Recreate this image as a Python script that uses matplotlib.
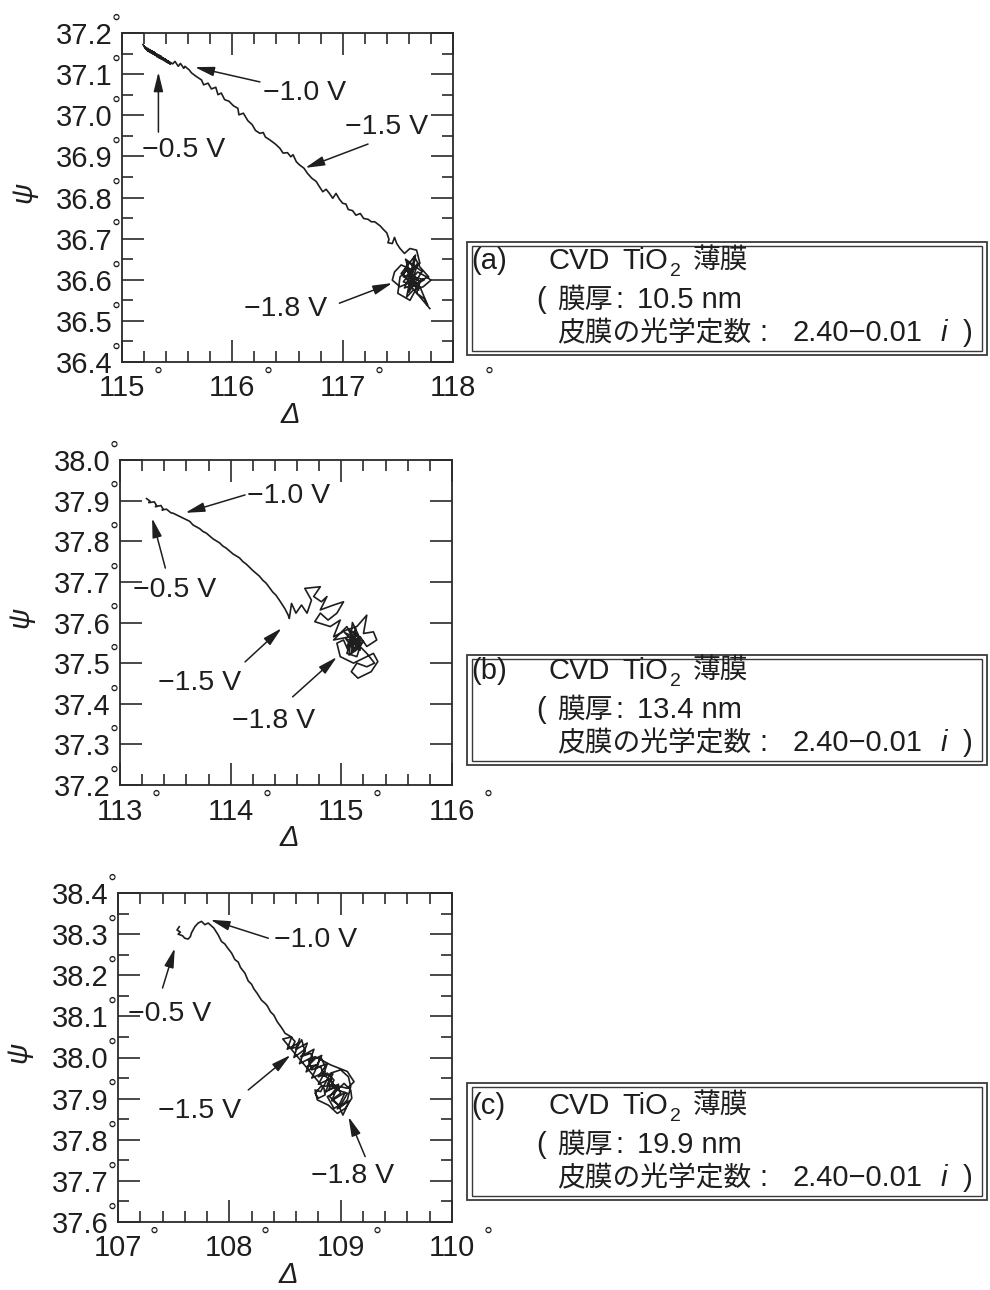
import matplotlib
matplotlib.use("Agg")
import matplotlib.pyplot as plt
from matplotlib.patches import Rectangle
from matplotlib.ticker import FixedLocator, FixedFormatter, MultipleLocator, NullLocator

plt.rcParams['font.family'] = ['Liberation Sans', 'Noto Sans CJK JP', 'DejaVu Sans']
plt.rcParams['axes.unicode_minus'] = True

# ---------------- (a) 10.5 nm film: Delta / Psi trajectory ----------------
delta_a = [
    115.19, 115.22, 115.20, 115.24, 115.21, 115.26, 115.23, 115.28, 115.25, 115.30,
    115.27, 115.32, 115.29, 115.34, 115.31, 115.36, 115.33, 115.38, 115.35, 115.40,
    115.37, 115.42, 115.39, 115.44, 115.41, 115.46, 115.48, 115.51, 115.53, 115.56,
    115.57, 115.61, 115.63,
    115.68, 115.72, 115.74, 115.78, 115.81, 115.85, 115.87, 115.90, 115.93, 115.97,
    116.01, 116.05, 116.06, 116.10, 116.14, 116.18, 116.21, 116.25, 116.28, 116.30,
    116.34, 116.39, 116.43, 116.46, 116.50, 116.53, 116.55, 116.58, 116.61, 116.65,
    116.68, 116.72, 116.76, 116.79, 116.82, 116.85, 116.88, 116.91, 116.94, 116.97,
    117.00, 117.03, 117.05, 117.09, 117.12, 117.16, 117.19, 117.23, 117.26, 117.29,
    117.34, 117.37, 117.40, 117.42, 117.41, 117.45, 117.47, 117.49, 117.52,
    117.56, 117.61, 117.67, 117.70, 117.64, 117.53, 117.47, 117.45, 117.52, 117.59,
    117.68, 117.76, 117.80, 117.73, 117.64, 117.58, 117.61, 117.65, 117.59, 117.55,
    117.62, 117.70, 117.67, 117.74, 117.77, 117.70, 117.64, 117.58, 117.52, 117.50,
    117.61, 117.71, 117.78, 117.70, 117.65, 117.61, 117.64,
    117.58, 117.66, 117.55, 117.68, 117.60, 117.72, 117.57, 117.63, 117.69, 117.53,
    117.66, 117.61, 117.74, 117.59, 117.64, 117.56, 117.70, 117.62, 117.67, 117.60,
    117.79,
]
psi_a = [
    37.172, 37.160, 37.168, 37.155, 37.166, 37.152, 37.163, 37.149, 37.160, 37.146,
    37.157, 37.142, 37.154, 37.139, 37.150, 37.136, 37.147, 37.133, 37.144, 37.130,
    37.140, 37.127, 37.137, 37.124, 37.133, 37.125, 37.131, 37.119, 37.126, 37.114,
    37.119, 37.110, 37.103,
    37.093, 37.086, 37.074, 37.078, 37.064, 37.068, 37.050, 37.054, 37.038, 37.034,
    37.023, 37.017, 37.001, 37.005, 36.987, 36.977, 36.963, 36.956, 36.958, 36.947,
    36.940, 36.930, 36.920, 36.908, 36.909, 36.899, 36.904, 36.887, 36.879, 36.871,
    36.859, 36.847, 36.839, 36.826, 36.814, 36.820, 36.810, 36.798, 36.810, 36.796,
    36.786, 36.784, 36.771, 36.768, 36.757, 36.761, 36.749, 36.747, 36.741, 36.741,
    36.731, 36.722, 36.714, 36.698, 36.690, 36.688, 36.703, 36.688, 36.676,
    36.664, 36.676, 36.672, 36.640, 36.623, 36.636, 36.619, 36.599, 36.583, 36.591,
    36.619, 36.607, 36.599, 36.583, 36.575, 36.558, 36.599, 36.631, 36.644, 36.607,
    36.615, 36.595, 36.567, 36.554, 36.538, 36.583, 36.599, 36.623, 36.607, 36.567,
    36.550, 36.599, 36.607, 36.631, 36.656, 36.607, 36.591,
    36.625, 36.585, 36.595, 36.640, 36.570, 36.620, 36.650, 36.600, 36.575, 36.615,
    36.660, 36.580, 36.600, 36.610, 36.630, 36.580, 36.595, 36.612, 36.605, 36.590,
    36.530,
]

# ---------------- (b) 13.4 nm film ----------------
delta_b = [
    113.24, 113.27, 113.26, 113.31, 113.33, 113.32, 113.37, 113.39, 113.38, 113.42,
    113.46, 113.48,
    113.54, 113.60, 113.63, 113.66, 113.72, 113.75, 113.78, 113.84, 113.90, 113.93,
    113.96, 114.02, 114.08, 114.11, 114.14, 114.20, 114.26, 114.29, 114.32, 114.38,
    114.41, 114.44, 114.49, 114.52, 114.53,
    114.55, 114.59, 114.64, 114.69, 114.73, 114.67, 114.81, 114.75, 114.82, 114.87,
    114.81, 114.93, 115.02, 114.96, 114.88, 114.81, 114.76, 114.90, 114.99, 114.93,
    115.05, 115.14, 115.23, 115.20, 115.29, 115.32, 115.23, 115.17, 115.08, 115.05,
    115.14, 115.18, 115.11, 115.06, 115.02, 114.96, 114.99, 115.11, 115.20, 115.29,
    115.33, 115.27, 115.15, 115.09, 115.14, 115.23, 115.30, 115.23, 115.11, 115.14,
    115.17, 115.09, 115.12, 115.20, 115.15, 115.08, 114.93, 115.05, 115.11,
    115.06, 115.14, 115.08, 115.12, 115.04, 115.16, 115.09, 115.13, 115.05, 115.17,
    115.10, 115.07, 115.15, 115.11, 115.03, 115.12, 115.08, 115.14,
]
psi_b = [
    37.905, 37.899, 37.895, 37.897, 37.888, 37.885, 37.888, 37.879, 37.877, 37.879,
    37.870, 37.869,
    37.861, 37.853, 37.849, 37.840, 37.831, 37.824, 37.820, 37.806, 37.796, 37.788,
    37.783, 37.769, 37.759, 37.750, 37.744, 37.728, 37.714, 37.704, 37.697, 37.675,
    37.667, 37.655, 37.634, 37.618, 37.610,
    37.647, 37.623, 37.643, 37.623, 37.655, 37.684, 37.688, 37.664, 37.651, 37.664,
    37.631, 37.643, 37.651, 37.623, 37.606, 37.623, 37.602, 37.590, 37.606, 37.565,
    37.582, 37.590, 37.618, 37.573, 37.577, 37.557, 37.541, 37.565, 37.549, 37.524,
    37.516, 37.549, 37.565, 37.532, 37.557, 37.549, 37.516, 37.500, 37.512, 37.524,
    37.504, 37.479, 37.463, 37.479, 37.500, 37.491, 37.500, 37.524, 37.557, 37.573,
    37.532, 37.541, 37.561, 37.553, 37.536, 37.565, 37.557, 37.590, 37.557,
    37.545, 37.570, 37.580, 37.530, 37.560, 37.548, 37.525, 37.585, 37.540, 37.560,
    37.600, 37.520, 37.535, 37.565, 37.575, 37.550, 37.555, 37.542,
]

# ---------------- (c) 19.9 nm film ----------------
delta_c = [
    107.55, 107.53, 107.56, 107.54, 107.58, 107.60, 107.63, 107.65, 107.66, 107.69,
    107.72, 107.75, 107.78, 107.81, 107.86,
    107.90, 107.93, 107.96, 107.98, 108.02, 108.05, 108.08, 108.10, 108.14, 108.17,
    108.20, 108.22, 108.25, 108.29, 108.32, 108.34, 108.37, 108.40, 108.43, 108.46,
    108.48, 108.50,
    108.55, 108.59, 108.56, 108.61, 108.65, 108.68, 108.64, 108.73, 108.76, 108.70,
    108.79, 108.82, 108.86, 108.80, 108.88, 108.94, 108.89, 108.97, 109.00, 108.92,
    109.00, 109.06, 109.09, 109.07, 109.00, 108.91, 108.86, 108.82, 108.77, 108.79,
    108.89, 108.97, 109.04, 109.10, 109.09, 109.03, 108.94, 108.88, 108.94, 109.01,
    109.06, 108.97, 108.91, 108.85, 108.82, 108.74, 108.71, 108.77, 108.91, 109.06,
    109.12, 109.06, 108.94, 108.82, 108.77, 108.80, 108.86, 108.85,
    108.48, 108.56, 108.52, 108.62, 108.58, 108.68, 108.63, 108.74, 108.69, 108.80,
    108.74, 108.86, 108.80, 108.92, 108.86, 108.98, 108.92, 109.04, 108.97, 109.08,
    109.02, 108.98, 108.90, 108.96, 108.88, 108.93, 108.84, 108.88, 108.78, 108.83,
    108.72, 108.76, 108.66, 108.70, 108.60, 108.63,
]
psi_c = [
    38.318, 38.310, 38.305, 38.300, 38.296, 38.290, 38.288, 38.294, 38.303, 38.318,
    38.327, 38.331, 38.323, 38.327, 38.315,
    38.298, 38.282, 38.276, 38.268, 38.254, 38.238, 38.232, 38.219, 38.205, 38.186,
    38.178, 38.167, 38.156, 38.139, 38.132, 38.126, 38.111, 38.103, 38.087, 38.076,
    38.068, 38.059,
    38.051, 38.039, 38.022, 38.026, 38.043, 38.014, 38.002, 38.010, 37.994, 37.978,
    37.982, 38.002, 37.978, 37.953, 37.962, 37.945, 37.921, 37.929, 37.913, 37.897,
    37.880, 37.897, 37.929, 37.953, 37.970, 37.962, 37.937, 37.917, 37.921, 37.897,
    37.884, 37.864, 37.876, 37.901, 37.921, 37.937, 37.913, 37.905, 37.876, 37.888,
    37.913, 37.921, 37.945, 37.957, 37.978, 37.970, 37.994, 38.002, 37.982, 37.966,
    37.941, 37.925, 37.933, 37.929, 37.913, 37.901, 37.909, 37.925,
    38.045, 38.050, 38.020, 38.035, 38.000, 38.020, 37.985, 38.000, 37.965, 37.985,
    37.950, 37.965, 37.935, 37.950, 37.915, 37.935, 37.895, 37.915, 37.875, 37.895,
    37.860, 37.885, 37.905, 37.925, 37.935, 37.960, 37.955, 37.985, 37.975, 38.005,
    37.990, 38.020, 38.005, 38.035, 38.020, 38.045,
]

# axis ticks and tick labels
xticks_a = [115, 116, 117, 118]
xticks_b = [113, 114, 115, 116]
xticks_c = [107, 108, 109, 110]
xlabels_a = ['115', '116', '117', '118']
xlabels_b = ['113', '114', '115', '116']
xlabels_c = ['107', '108', '109', '110']
yticks_a = [36.4, 36.5, 36.6, 36.7, 36.8, 36.9, 37.0, 37.1, 37.2]
yticks_b = [37.2, 37.3, 37.4, 37.5, 37.6, 37.7, 37.8, 37.9, 38.0]
yticks_c = [37.6, 37.7, 37.8, 37.9, 38.0, 38.1, 38.2, 38.3, 38.4]
ylabels_a = ['36.4', '36.5', '36.6', '36.7', '36.8', '36.9', '37.0', '37.1', '37.2']
ylabels_b = ['37.2', '37.3', '37.4', '37.5', '37.6', '37.7', '37.8', '37.9', '38.0']
ylabels_c = ['37.6', '37.7', '37.8', '37.9', '38.0', '38.1', '38.2', '38.3', '38.4']

# potential labels: (text, label x, label y, arrow tail x, tail y, arrow tip x, tip y)
marks_a = [
    ('−1.0 V', 116.28, 37.061, 116.25, 37.081, 115.66, 37.117),
    ('−0.5 V', 115.18, 36.923, 115.33, 36.959, 115.33, 37.105),
    ('−1.5 V', 117.02, 36.979, 117.23, 36.930, 116.66, 36.872),
    ('−1.8 V', 116.11, 36.536, 116.97, 36.543, 117.45, 36.592),
]
marks_b = [
    ('−1.0 V', 114.15, 37.919, 114.13, 37.914, 113.59, 37.870),
    ('−0.5 V', 113.12, 37.687, 113.41, 37.734, 113.29, 37.857),
    ('−1.5 V', 113.34, 37.458, 114.13, 37.503, 114.46, 37.586),
    ('−1.8 V', 114.01, 37.365, 114.56, 37.417, 114.96, 37.515),
]
marks_c = [
    ('−1.0 V', 108.40, 38.294, 108.35, 38.290, 107.83, 38.335),
    ('−0.5 V', 107.09, 38.112, 107.40, 38.169, 107.51, 38.266),
    ('−1.5 V', 107.36, 37.876, 108.17, 37.921, 108.55, 38.006),
    ('−1.8 V', 108.73, 37.718, 109.22, 37.759, 109.07, 37.856),
]

panel_tags = ['(a)', '(b)', '(c)']
thickness = ['10.5 nm', '13.4 nm', '19.9 nm']
optical_const = '2.40−0.01'

INK = '#1e1e1e'
W, H = 990, 1290
fig = plt.figure(figsize=(W / 100, H / 100), dpi=100)
fig.patch.set_facecolor('white')


def px_axes(l, t, r, b):
    return fig.add_axes([l / W, 1 - b / H, (r - l) / W, (b - t) / H])


def ftext(x, y, s, **kw):
    kw.setdefault('color', INK)
    return fig.text(x / W, 1 - y / H, s, **kw)


def draw_panel(ax, delta, psi, xticks, xlabels, yticks, ylabels, yminor, marks):
    ax.plot(delta, psi, color=INK, lw=1.2, solid_joinstyle='round')
    ax.set_xlim(xticks[0], xticks[-1])
    ax.set_ylim(yticks[0], yticks[-1])
    ax.xaxis.set_major_locator(FixedLocator(xticks))
    ax.xaxis.set_major_formatter(FixedFormatter(xlabels))
    ax.yaxis.set_major_locator(FixedLocator(yticks))
    ax.yaxis.set_major_formatter(FixedFormatter(ylabels))
    ax.xaxis.set_minor_locator(MultipleLocator(0.2))
    if yminor:
        ax.yaxis.set_minor_locator(MultipleLocator(0.05))
    else:
        ax.yaxis.set_minor_locator(NullLocator())
    ax.tick_params(which='both', direction='in', top=True, right=True,
                   width=1.2, color='#2a2a2a', labelsize=21, labelcolor=INK)
    ax.tick_params(which='major', length=16)
    ax.tick_params(which='minor', length=8)
    ax.tick_params(axis='y', pad=7)
    ax.tick_params(axis='x', pad=9)
    for sp in ax.spines.values():
        sp.set_linewidth(1.3)
        sp.set_color('#2a2a2a')

    # degree signs attached to tick labels
    for v in yticks:
        ax.annotate('°', xy=(0, v), xycoords=('axes fraction', 'data'),
                    xytext=(-6, 9), textcoords='offset pixels', ha='center',
                    va='center', fontsize=16, color=INK, annotation_clip=False)
    for v in xticks:
        ax.annotate('°', xy=(v, 0), xycoords=('data', 'axes fraction'),
                    xytext=(36, -15), textcoords='offset pixels', ha='center',
                    va='center', fontsize=16, color=INK, annotation_clip=False)

    ax.set_xlabel('Δ', fontsize=21, fontstyle='italic', color=INK)
    ax.xaxis.set_label_coords(0.51, -0.12)
    ax.set_ylabel('ψ', fontsize=21, fontstyle='italic', color=INK)
    ax.yaxis.set_label_coords(-0.257, 0.515)

    for label, lx, ly, ax0, ay0, ax1, ay1 in marks:
        ax.text(lx, ly, label, fontsize=20.5, color=INK, ha='left',
                va='center_baseline')
        ax.annotate('', xy=(ax1, ay1), xytext=(ax0, ay0),
                    arrowprops=dict(arrowstyle='-|>,head_length=0.9,head_width=0.22',
                                    mutation_scale=13, lw=1.1, color=INK,
                                    shrinkA=0, shrinkB=0))


ax_a = px_axes(122, 33, 453, 362)
draw_panel(ax_a, delta_a, psi_a, xticks_a, xlabels_a, yticks_a, ylabels_a, True, marks_a)
ax_b = px_axes(120, 460, 452, 785)
draw_panel(ax_b, delta_b, psi_b, xticks_b, xlabels_b, yticks_b, ylabels_b, False, marks_b)
ax_c = px_axes(118, 893, 452, 1222)
draw_panel(ax_c, delta_c, psi_c, xticks_c, xlabels_c, yticks_c, ylabels_c, True, marks_c)

# film description boxes (double frame) to the right of each panel
box_rows = [(242, 355), (655, 765), (1083, 1200)]
L, R = 467, 987
CJK = ['Noto Sans CJK JP']
for (top, bot), tag, thick in zip(box_rows, panel_tags, thickness):
    fig.add_artist(Rectangle((L / W, 1 - bot / H), (R - L) / W, (bot - top) / H,
                             transform=fig.transFigure, fill=False, lw=1.3, ec='#3a3a3a'))
    fig.add_artist(Rectangle(((L + 5) / W, 1 - (bot - 4) / H), (R - L - 10) / W,
                             (bot - top - 8) / H, transform=fig.transFigure,
                             fill=False, lw=1.0, ec='#3a3a3a'))
    y1, y2, y3 = bot - 86, bot - 47, bot - 14
    ftext(471, y1, tag, fontsize=21, va='baseline')
    ftext(549, y1, 'CVD', fontsize=21, va='baseline')
    ftext(622, y1, 'TiO', fontsize=21, va='baseline')
    ftext(670, y1 + 7, '2', fontsize=14, va='baseline')
    ftext(693, y1, '薄膜', fontsize=20, family=CJK, va='baseline')
    ftext(536, y2, '(', fontsize=21, va='baseline')
    ftext(557, y2, '膜厚', fontsize=20, family=CJK, va='baseline')
    ftext(619, y2, ':', fontsize=21, va='baseline', ha='center')
    ftext(637, y2, thick, fontsize=21, va='baseline')
    ftext(557, y3, '皮膜の光学定数', fontsize=20, family=CJK, va='baseline')
    ftext(763, y3, ':', fontsize=21, va='baseline', ha='center')
    ftext(793, y3, optical_const, fontsize=21, va='baseline')
    ftext(941, y3, 'i', fontsize=21, fontstyle='italic', va='baseline')
    ftext(963, y3, ')', fontsize=21, va='baseline')

fig.savefig('out.png', dpi=100, facecolor='white')
